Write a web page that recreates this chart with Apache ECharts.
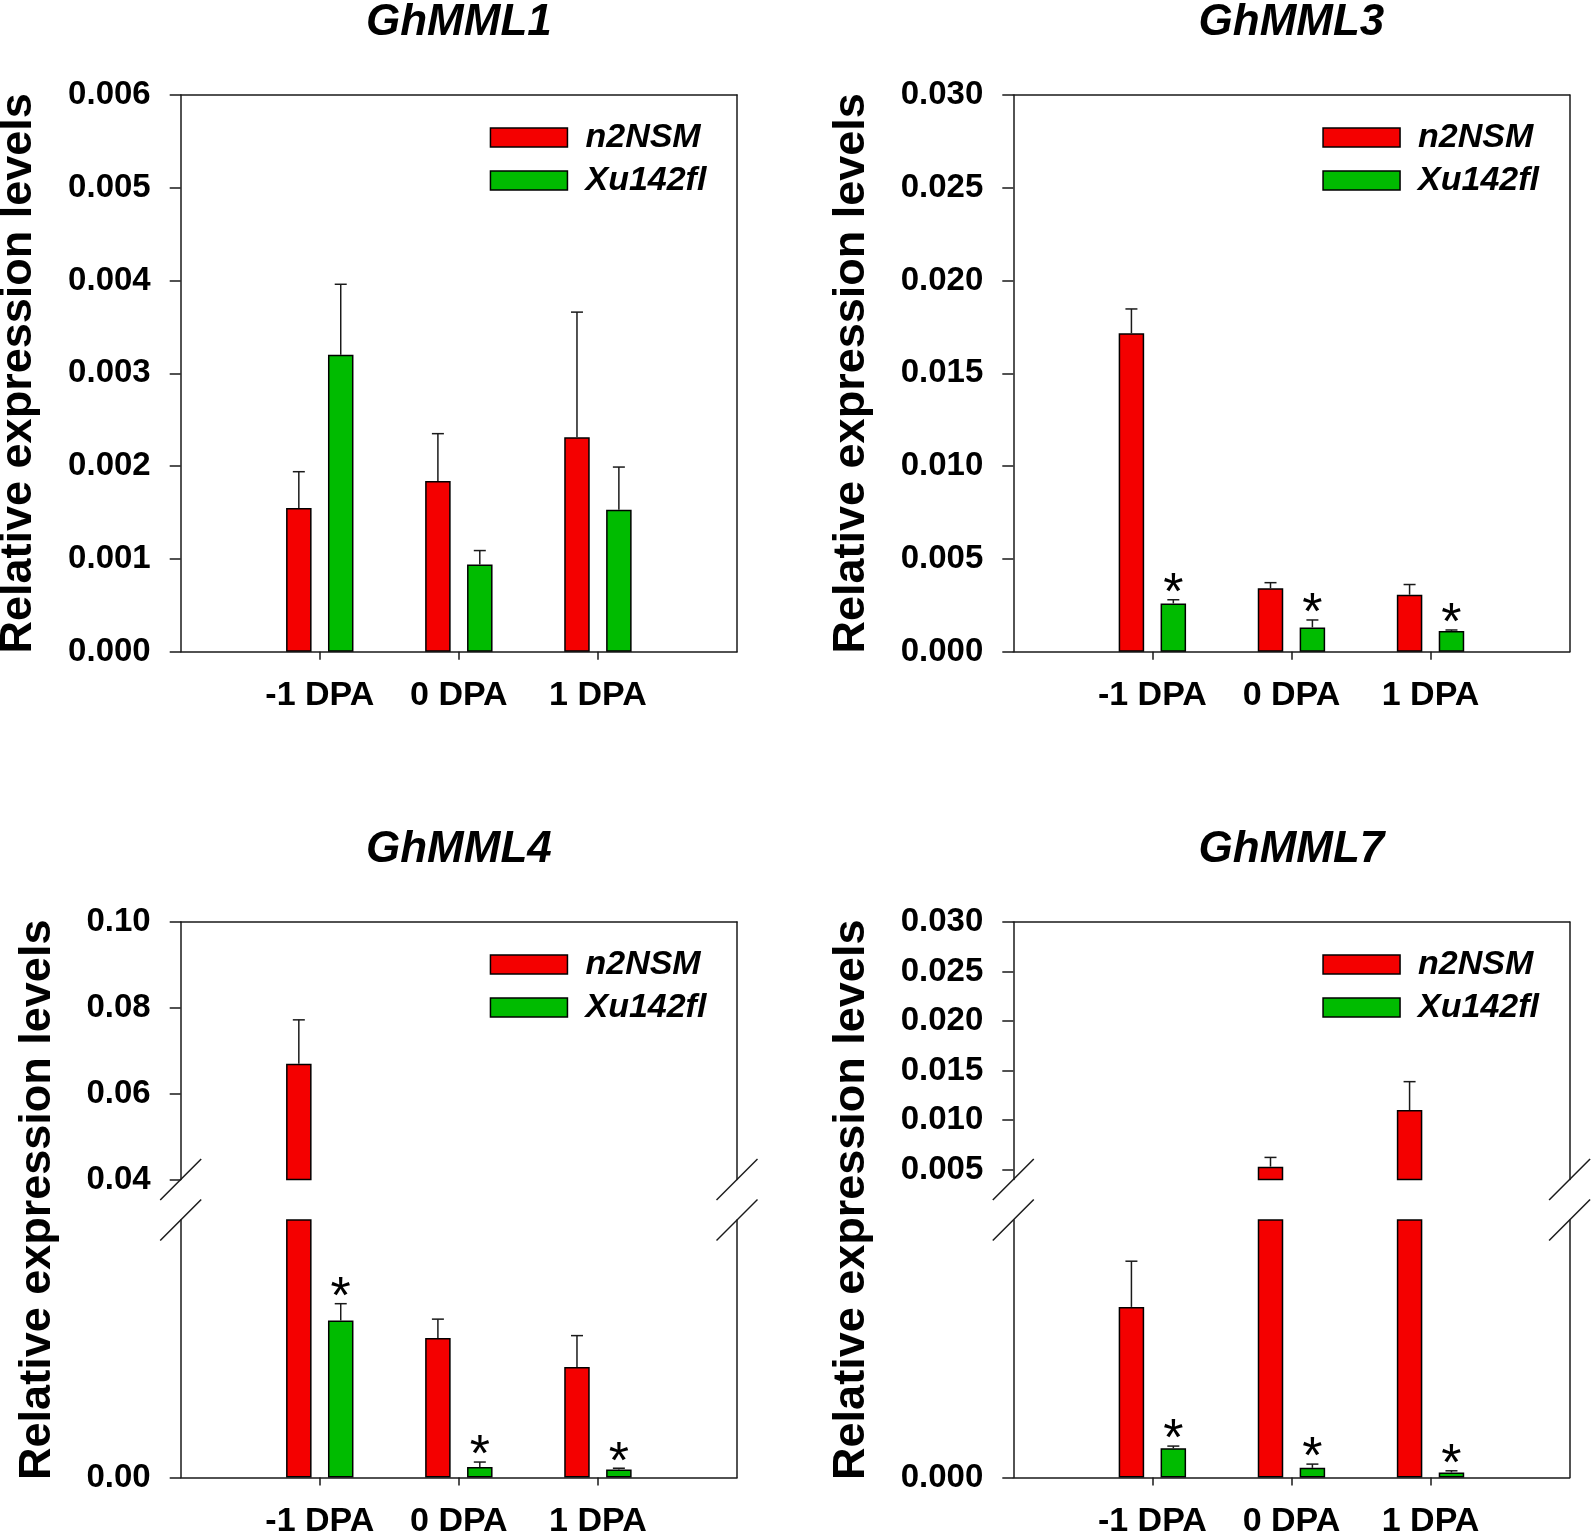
<!DOCTYPE html>
<html><head><meta charset="utf-8">
<script src="https://cdn.jsdelivr.net/npm/echarts@6/dist/echarts.min.js"></script>
<style>html,body{margin:0;padding:0;background:#fff}#c{width:1594px;height:1537px}</style>
</head><body><div id="c"></div>
<script>
// ---------------- DATA ----------------
const categories = ['-1 DPA', '0 DPA', '1 DPA'];
const seriesNames = ['n2NSM', 'Xu142fl'];

// GhMML1 (mean, error)
const mml1Red = [0.00155, 0.00184, 0.00231];
const mml1RedErr = [0.00039, 0.00051, 0.00135];
const mml1Green = [0.00320, 0.00094, 0.00153];
const mml1GreenErr = [0.00076, 0.00015, 0.00046];
const mml1GreenSig = [false, false, false];
const mml1Ticks = [0, 0.001, 0.002, 0.003, 0.004, 0.005, 0.006];

// GhMML3
const mml3Red = [0.01716, 0.00342, 0.00307];
const mml3RedErr = [0.00131, 0.00030, 0.00055];
const mml3Green = [0.00260, 0.00131, 0.00112];
const mml3GreenErr = [0.00020, 0.00040, 0.00005];
const mml3GreenSig = [true, true, true];
const mml3Ticks = [0, 0.005, 0.010, 0.015, 0.020, 0.025, 0.030];

// GhMML4 (broken axis: upper 0.04-0.10, lower 0-0.01)
const mml4Red = [0.0670, 0.00542, 0.00429];
const mml4RedErr = [0.0102, 0.00073, 0.00122];
const mml4Green = [0.00610, 0.00041, 0.00031];
const mml4GreenErr = [0.00065, 0.00019, 0.00005];
const mml4GreenSig = [true, true, true];
const mml4UpperRange = [0.04, 0.10];
const mml4LowerRange = [0, 0.01];
const mml4UpperTicks = [0.04, 0.06, 0.08, 0.10];
const mml4LowerTicks = [0];

// GhMML7 (broken axis: upper 0.004-0.030, lower 0-0.004)
const mml7Red = [0.00265, 0.00530, 0.01101];
const mml7RedErr = [0.00071, 0.00093, 0.00287];
const mml7Green = [0.000455, 0.00015, 0.000078];
const mml7GreenErr = [0.000033, 0.000058, 0.000026];
const mml7GreenSig = [true, true, true];
const mml7UpperRange = [0.004, 0.030];
const mml7LowerRange = [0, 0.004];
const mml7UpperTicks = [0.005, 0.010, 0.015, 0.020, 0.025, 0.030];
const mml7LowerTicks = [0];

// ---------------- LAYOUT / STYLE ----------------
const FONT = '"Liberation Sans", Arial, Helvetica, sans-serif';
const RED = '#f40000', GREEN = '#00bb00';
const AXC = '#1a1a1a', AXW = 1.5;
const colLeft = [180.7, 1013.3];
const plotW = 556.3;
const BAR_W = 25.5, BAR_GAP = 16.4;
const OFFSET = (BAR_W + BAR_GAP) / 2;

const panels = [
  { title: 'GhMML1', col: 0, top: 95, red: mml1Red, redErr: mml1RedErr, green: mml1Green, greenErr: mml1GreenErr, sig: mml1GreenSig, dec: 3,
    segs: [{ range: [0, 0.006], ticks: mml1Ticks, top: 95, h: 556.7, border: 'full' }], ytitleX: 19 },
  { title: 'GhMML3', col: 1, top: 95, red: mml3Red, redErr: mml3RedErr, green: mml3Green, greenErr: mml3GreenErr, sig: mml3GreenSig, dec: 3,
    segs: [{ range: [0, 0.030], ticks: mml3Ticks, top: 95, h: 556.7, border: 'full' }], ytitleX: 19 },
  { title: 'GhMML4', col: 0, top: 922, red: mml4Red, redErr: mml4RedErr, green: mml4Green, greenErr: mml4GreenErr, sig: mml4GreenSig, dec: 2,
    segs: [{ range: mml4UpperRange, ticks: mml4UpperTicks, top: 922, h: 257.5, border: 'upper' },
           { range: mml4LowerRange, ticks: mml4LowerTicks, top: 1220, h: 257.5, border: 'lower' }], ytitleX: 38 },
  { title: 'GhMML7', col: 1, top: 922, red: mml7Red, redErr: mml7RedErr, green: mml7Green, greenErr: mml7GreenErr, sig: mml7GreenSig, dec: 3,
    segs: [{ range: mml7UpperRange, ticks: mml7UpperTicks, top: 922, h: 257.5, border: 'upper' },
           { range: mml7LowerRange, ticks: mml7LowerTicks, top: 1220, h: 257.5, border: 'lower' }], ytitleX: 19 }
];

const grid = [], xAxis = [], yAxis = [], series = [], legend = [], graphic = [];
const xData = [''].concat(categories).concat(['']);
const lineStyle = { color: AXC, width: AXW };

function errRenderer(offset) {
  return function (params, api) {
    const xi = api.value(0), m = api.value(1), e = api.value(2), s = api.value(3);
    const b = api.coord([xi, m]);
    const t = api.coord([xi, m + e]);
    const x = b[0] + offset;
    const children = [
      { type: 'line', shape: { x1: x, y1: b[1], x2: x, y2: t[1] }, style: { stroke: AXC, lineWidth: 1.5 } },
      { type: 'line', shape: { x1: x - 6, y1: t[1], x2: x + 6, y2: t[1] }, style: { stroke: AXC, lineWidth: 1.5 } }
    ];
    if (s) {
      children.push({ type: 'text', style: { text: '*', x: x, y: t[1] + 21, textAlign: 'center', textVerticalAlign: 'bottom',
        fontSize: 52, fontFamily: FONT, fill: '#000' } });
    }
    return { type: 'group', children: children };
  };
}

panels.forEach(function (p) {
  const left = colLeft[p.col];
  p.segs.forEach(function (seg) {
    const gi = grid.length;
    grid.push({ left: left, top: seg.top, width: plotW, height: seg.h, containLabel: false, outerBoundsMode: 'none' });
    const showBottom = seg.border !== 'upper';
    const showTop = seg.border !== 'lower';
    const xi = xAxis.length;
    xAxis.push({ gridIndex: gi, type: 'category', data: xData, boundaryGap: false, position: 'bottom',
      axisLine: { show: showBottom, onZero: false, lineStyle: lineStyle },
      axisTick: { show: showBottom, length: 8, interval: function (i) { return i >= 1 && i <= categories.length; }, lineStyle: lineStyle },
      axisLabel: { show: showBottom, interval: 0, margin: 27, fontSize: 34, fontWeight: 'bold', color: '#000', fontFamily: FONT },
      splitLine: { show: false } });
    xAxis.push({ gridIndex: gi, type: 'category', data: xData, boundaryGap: false, position: 'top',
      axisLine: { show: showTop, onZero: false, lineStyle: lineStyle }, axisTick: { show: false }, axisLabel: { show: false }, splitLine: { show: false } });
    const yi = yAxis.length;
    yAxis.push({ gridIndex: gi, type: 'value', position: 'left', min: seg.range[0], max: seg.range[1],
      axisLine: { show: true, onZero: false, lineStyle: lineStyle },
      axisTick: { show: true, length: 11, customValues: seg.ticks, lineStyle: lineStyle },
      axisLabel: { customValues: seg.ticks, margin: 30, fontSize: 33, fontWeight: 'bold', color: '#000', fontFamily: FONT,
        formatter: function (v) { return Number(v).toFixed(p.dec); } },
      splitLine: { show: false } });
    yAxis.push({ gridIndex: gi, type: 'value', position: 'right', min: seg.range[0], max: seg.range[1],
      axisLine: { show: true, onZero: false, lineStyle: lineStyle }, axisTick: { show: false }, axisLabel: { show: false }, splitLine: { show: false } });

    const lo = seg.range[0], hi = seg.range[1];
    const barData = function (arr) { return ['-'].concat(arr.map(function (v) { return v >= lo ? v : '-'; })).concat(['-']); };
    [[p.red, RED, seriesNames[0]], [p.green, GREEN, seriesNames[1]]].forEach(function (d) {
      series.push({ type: 'bar', name: d[2], xAxisIndex: xi, yAxisIndex: yi, data: barData(d[0]),
        barWidth: BAR_W, barGap: (BAR_GAP / BAR_W * 100) + '%', clip: true, silent: true,
        itemStyle: { color: d[1], borderColor: '#000', borderWidth: 1.5 }, z: 2 });
    });
    const errRows = function (vals, errs, sig) {
      const rows = [];
      vals.forEach(function (v, i) { if (v >= lo && v <= hi) rows.push([i + 1, v, errs[i], sig && sig[i] ? 1 : 0]); });
      return rows;
    };
    series.push({ type: 'custom', xAxisIndex: xi, yAxisIndex: yi, data: errRows(p.red, p.redErr, null), renderItem: errRenderer(-OFFSET), silent: true, z: 5 });
    series.push({ type: 'custom', xAxisIndex: xi, yAxisIndex: yi, data: errRows(p.green, p.greenErr, p.sig), renderItem: errRenderer(OFFSET), silent: true, z: 5 });
  });

  // legend
  legend.push({ left: left + 304, top: p.top + 20.5, orient: 'vertical', icon: 'rect', itemWidth: 77, itemHeight: 19, itemGap: 9,
    selectedMode: false, data: seriesNames,
    itemStyle: { borderColor: '#000', borderWidth: 1.5 },
    textStyle: { fontSize: 34, fontWeight: 'bold', fontStyle: 'italic', color: '#000', fontFamily: FONT, padding: [0, 0, 0, 13] } });

  // title
  graphic.push({ type: 'text', x: left + plotW / 2, y: p.top - 94, style: { text: p.title, textAlign: 'center', textVerticalAlign: 'top',
    fontSize: 44, fontWeight: 'bold', fontStyle: 'italic', fontFamily: FONT, fill: '#000' } });
  // y-axis title
  const yTop = p.segs[0].top, yBot = p.segs[p.segs.length - 1].top + p.segs[p.segs.length - 1].h;
  graphic.push({ type: 'text', x: left - 180.7 + p.ytitleX, y: (yTop + yBot) / 2, rotation: Math.PI / 2,
    style: { text: 'Relative expression levels', textAlign: 'center', textVerticalAlign: 'middle',
      fontSize: 45, fontWeight: 'bold', fontFamily: FONT, fill: '#000' } });
  // break marks
  if (p.segs.length === 2) {
    const yb = [p.segs[0].top + p.segs[0].h, p.segs[1].top];
    [left, left + plotW].forEach(function (x) {
      yb.forEach(function (y) {
        graphic.push({ type: 'line', shape: { x1: x - 20.5, y1: y + 20.5, x2: x + 20.5, y2: y - 20.5 }, style: { stroke: AXC, lineWidth: 1.5 } });
      });
    });
  }
});

const chart = echarts.init(document.getElementById('c'), null, { renderer: 'canvas' });
chart.setOption({ animation: false, backgroundColor: '#fff', grid: grid, xAxis: xAxis, yAxis: yAxis, series: series, legend: legend, graphic: graphic });
</script></body></html>
